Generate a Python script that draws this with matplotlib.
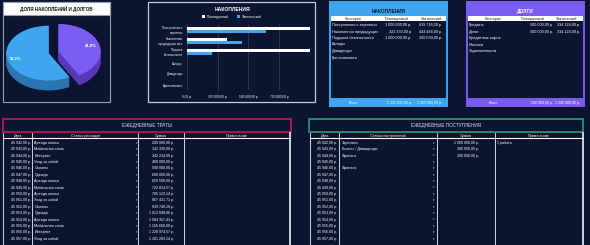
import matplotlib
matplotlib.use("Agg")
import matplotlib.pyplot as plt
from matplotlib.patches import Rectangle
import numpy as np

plt.rcParams["font.family"] = ["Liberation Sans", "DejaVu Sans"]

# ---------------------------------------------------------------------------
# Data
# ---------------------------------------------------------------------------
SHARE_VALUES = [58.2, 41.8]          # накопления / долги

SAV_CATS = ["Поступления с зарплаты", "Накопления предыдущих", "Подушка безопасности",
            "Вклады", "Дивиденды", "Криптовалюта"]
SAV_BAR_LABELS = ["Поступления с\nзарплаты", "Накопления\nпредыдущих мес.", "Подушка\nбезопасности",
                  "Вклады", "Дивиденды", "Криптовалюта"]
SAV_PLAN = [1000000, 322333, 1000000, 0, 0, 0]
SAV_FACT = [639716, 444444, 200000, 0, 0, 0]
SAV_TOTAL = ["2 322 333,00 р.", "1 283 860,00 р."]

DEBT_CATS = ["Кредиты", "Долги", "Кредитные карты", "Ипотека", "Задолженности"]
DEBT_PLAN = [500000, 500000, 0, 0, 0]
DEBT_FACT = [334124, 334124, 0, 0, 0]
DEBT_TOTAL = ["500 000,00 р.", "1 000 000,00 р."]

DATES = [45942, 45943, 45944, 45945, 45946, 45947, 45948, 45949,
         45950, 45951, 45952, 45953, 45954, 45955, 45956, 45957]

EXP_CATS = ["Аренда жилья", "Мобильная связь", "Интернет", "Уход за собой", "Салоны", "Одежда",
            "Аренда жилья", "Мобильная связь", "Аренда жилья", "Уход за собой", "Салоны", "Одежда",
            "Аренда жилья", "Мобильная связь", "Интернет", "Уход за собой"]
EXP_SUMS = [200000.00, 342330.00, 342234.00, 400000.00, 500000.00, 600000.00,
            650506.00, 722814.57, 795123.14, 867431.71, 939740.29, 1012048.86,
            1084357.43, 1156666.00, 1228974.57, 1301283.14]

INC_CATS = ["Зарплата", "Бизнес / Дивиденды", "Фриланс", "", "Фриланс", ""] + [""] * 10
INC_SUMS = [1000000, 300000, 200000] + [None] * 13
INC_NOTES = ["1 работа"] + [""] * 15

# ---------------------------------------------------------------------------
# Style
# ---------------------------------------------------------------------------
BG = "#0b1430"
BLUE = "#3ea6ef"
BLUE_SIDE = "#2a76b3"
PURPLE = "#7a5cf0"
PURPLE_SIDE = "#5638b8"
CRIMSON = "#c8184f"
GREEN = "#2f9e6e"
FRAME = "#c9ccd3"
W, H = 590, 245


def rub(v):
    return f"{v:,.2f}".replace(",", " ").replace(".", ",") + " р."


def px_axes(x0, y0, x1, y1):
    return fig.add_axes([x0 / W, 1 - y1 / H, (x1 - x0) / W, (y1 - y0) / H])


fig = plt.figure(figsize=(5.9, 2.45), dpi=100)
fig.patch.set_facecolor(BG)
base = fig.add_axes([0, 0, 1, 1])
base.set_xlim(0, W)
base.set_ylim(H, 0)
base.axis("off")


def txt(x, y, s, size=2.8, color="white", ha="left", **kw):
    base.text(x, y, s, fontsize=size, color=color, ha=ha, va="center", **kw)


# ---------------------------------------------------------------------------
# Pie panel
# ---------------------------------------------------------------------------
base.add_patch(Rectangle((3.3, 1.7), 106.7, 100, fc=BG, ec="#9aa0aa", lw=0.8))
base.add_patch(Rectangle((3.3, 1.7), 106.7, 13.3, fc="white", ec="#9aa0aa", lw=0.8))
txt(56.6, 8.6, "ДОЛЯ НАКОПЛЕНИЙ И ДОЛГОВ", size=3.3, color="#111111", ha="center",
    fontweight="bold")

ax_pie = px_axes(5, 21, 102, 94)
explode = [0.12, 0.12]
for d in np.linspace(0.36, 0.01, 25):
    ax_pie.pie(SHARE_VALUES, colors=[BLUE_SIDE, PURPLE_SIDE], explode=explode,
               startangle=90, center=(0, -d), wedgeprops=dict(linewidth=0))
ax_pie.pie(SHARE_VALUES, colors=[BLUE, PURPLE], explode=explode, startangle=90,
           autopct=lambda p: f"{p:.1f}%".replace(".", ","), pctdistance=0.8,
           textprops=dict(color="white", fontsize=3, fontweight="bold"),
           wedgeprops=dict(linewidth=0))
ax_pie.set_aspect("auto")
ax_pie.set_xlim(-1.15, 1.15)
ax_pie.set_ylim(-1.52, 1.14)
ax_pie.axis("off")

# ---------------------------------------------------------------------------
# Savings bar chart
# ---------------------------------------------------------------------------
base.add_patch(Rectangle((148.3, 1.7), 166.7, 100, fc=BG, ec=FRAME, lw=0.9))
txt(232, 9.3, "НАКОПЛЕНИЯ", size=3.6, ha="center", fontweight="bold")

ax_bar = px_axes(187, 24.5, 310, 90.5)
ax_bar.set_facecolor("none")
ypos = np.arange(len(SAV_BAR_LABELS))
ax_bar.barh(ypos - 0.15, SAV_PLAN, height=0.3, color="white", label="Планируемый", zorder=3)
ax_bar.barh(ypos + 0.15, SAV_FACT, height=0.3, color=BLUE, label="Фактический", zorder=3)
ax_bar.set_xlim(0, 1000000)
ax_bar.set_ylim(len(SAV_BAR_LABELS) - 0.5, -0.5)
ax_bar.set_yticks(ypos)
ax_bar.set_yticklabels(SAV_BAR_LABELS, fontsize=2.2, color="white", linespacing=1.1)
xt = [0, 250000, 500000, 750000]
ax_bar.set_xticks(xt)
ax_bar.set_xticklabels(["0,00 р."] + [rub(v) for v in xt[1:]], fontsize=2.3, color="white")
ax_bar.tick_params(length=0, pad=3)
ax_bar.grid(axis="x", color="#39435f", lw=0.5, zorder=0)
ax_bar.axvline(1000000, color="#39435f", lw=0.5, zorder=0)
for s in ax_bar.spines.values():
    s.set_visible(False)
ax_bar.legend(loc="center", bbox_to_anchor=(232 / W, 1 - 16.7 / H), bbox_transform=fig.transFigure,
              ncol=2, frameon=False, fontsize=2.4, labelcolor="white", handlelength=0.9,
              handleheight=0.9, handletextpad=0.5, columnspacing=2.5, borderpad=0)

# ---------------------------------------------------------------------------
# Summary tables (savings / debts)
# ---------------------------------------------------------------------------
def summary_table(x0, x1, color, title, title_color, cats, plan, fact, totals, cols):
    base.add_patch(Rectangle((x0, 2), x1 - x0, 104, fc=BG, ec=color, lw=1.4))
    base.add_patch(Rectangle((x0, 2), x1 - x0, 14, fc=color, ec=color, lw=1.4))
    base.add_patch(Rectangle((x0 + 1, 16), x1 - x0 - 2, 5, fc="white", lw=0))
    base.add_patch(Rectangle((x0, 99.3), x1 - x0, 6.7, fc=color, ec=color, lw=1.4))
    txt((x0 + x1) / 2, 11.5, title, size=3.4, color=title_color, ha="center", fontweight="bold")
    c_cat, c_plan, c_fact, r_plan, r_fact = cols
    for cx, s in zip((c_cat, c_plan, c_fact), ("Категория", "Планируемый", "Фактический")):
        txt(cx, 18.6, s, size=2.6, color="#222222", ha="center")
    for i, cat in enumerate(cats):
        y = 25 + 6.5 * i
        txt(x0 + 1.7, y, cat, size=2.8)
        if plan[i]:
            txt(r_plan, y, rub(plan[i]), size=2.7, ha="right")
        if fact[i]:
            txt(r_fact, y, rub(fact[i]), size=2.7, ha="right")
    txt(c_cat, 102.8, "Итого", size=2.6, ha="center")
    txt(r_plan, 102.8, totals[0], size=2.5, ha="right")
    txt(r_fact, 102.8, totals[1], size=2.5, ha="right")


summary_table(330, 447, BLUE, "НАКОПЛЕНИЯ", "#0b1430", SAV_CATS, SAV_PLAN, SAV_FACT, SAV_TOTAL,
              (353, 396.7, 431, 411.7, 441.7))
summary_table(467, 584, PURPLE, "ДОЛГИ", "white", DEBT_CATS, DEBT_PLAN, DEBT_FACT, DEBT_TOTAL,
              (493, 533, 566.7, 553, 580))

# ---------------------------------------------------------------------------
# Daily tables
# ---------------------------------------------------------------------------
def daily_table(x0, x1, color, title, headers, vlines, date_r, cat_l, arrow_x, sum_r,
                cats, sums, notes=None):
    base.add_patch(Rectangle((x0, 119), x1 - x0, 13.3, fc=BG, ec=color, lw=1.2))
    txt((x0 + x1) / 2, 125.7, title, size=3.3, color="#dfe3ea", ha="center")
    for k, xv in enumerate(vlines):
        lw = 1.4 if k == len(vlines) - 1 else 0.7
        base.plot([xv, xv], [133, 245], color="#cfd4dd", lw=lw)
    base.plot([vlines[0], vlines[-1]], [138.4, 138.4], color="white", lw=0.8)
    for k, s in enumerate(headers):
        txt((vlines[k] + vlines[k + 1]) / 2, 135.6, s, size=2.7, ha="center")
    for i, d in enumerate(DATES):
        y = 142.7 + 6.4 * i
        txt(date_r, y, rub(d), size=2.6, ha="right")
        base.plot([vlines[1] - 0.6, vlines[1]], [y - 2.6, y - 2.6], color="#ff3030", lw=0.5)
        if cats[i]:
            txt(cat_l, y, cats[i], size=2.7)
        txt(arrow_x, y, "▾", size=2.2, ha="center", color="#cfd4dd")
        if sums[i] is not None:
            txt(sum_r, y, rub(sums[i]), size=2.6, ha="right")
        if notes is not None and notes[i]:
            txt(vlines[3] + 1.7, y, notes[i], size=2.6)


daily_table(3.3, 291, CRIMSON, "ЕЖЕДНЕВНЫЕ ТРАТЫ",
            ["Дата", "Статья расходов", "Сумма", "Примечание"],
            [3.3, 32.3, 138, 184, 289.5], 31, 34.5, 136.5, 174, EXP_CATS, EXP_SUMS)
daily_table(309.3, 583.3, GREEN, "ЕЖЕДНЕВНЫЕ ПОСТУПЛЕНИЯ",
            ["Дата", "Статьи поступлений", "Сумма", "Примечание"],
            [310, 339.3, 436.7, 495, 582.7], 336.7, 341.5, 434, 479.3, INC_CATS, INC_SUMS, INC_NOTES)

fig.savefig("out.png", dpi=100, facecolor=BG)
